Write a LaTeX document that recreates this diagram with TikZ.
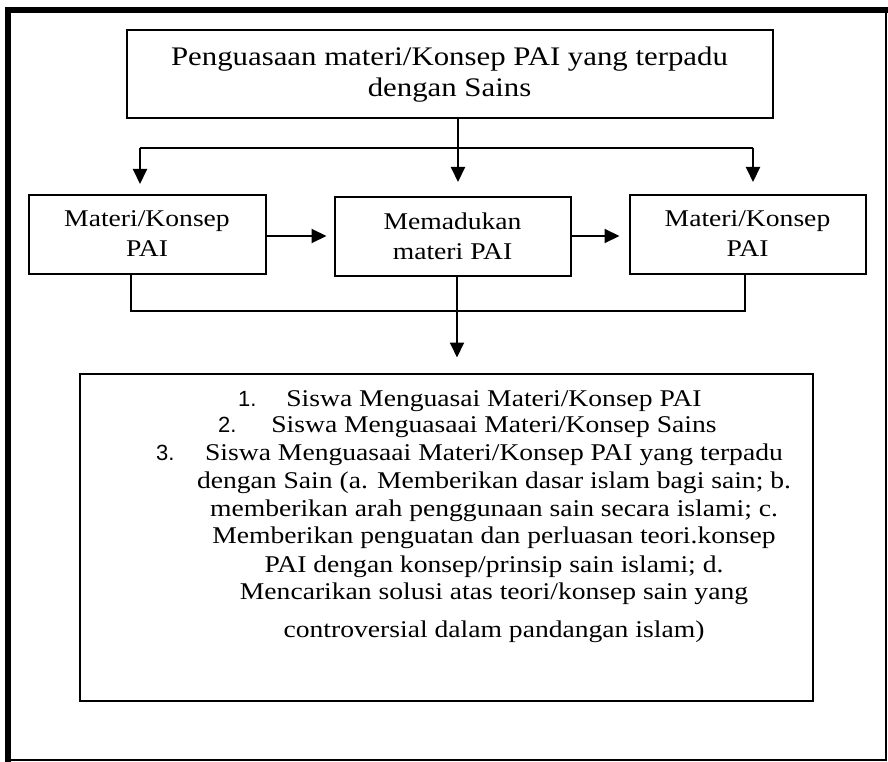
\documentclass[tikz,border=0pt]{standalone}
\usepackage{fontspec}
\setmainfont{Liberation Serif}[FakeStretch=1.15]
\newfontfamily\numfont{Liberation Sans}
\usetikzlibrary{arrows.meta}
\tikzset{
  box/.style={draw, line width=2pt, inner sep=0pt, align=center,
    font=\fontsize{24}{30}\selectfont},
  txt/.style={inner sep=0pt, anchor=base, font=\fontsize{24}{30}\selectfont},
  num/.style={inner sep=0pt, anchor=base west, font=\numfont\fontsize{22}{26}\selectfont},
  arr/.style={line width=2pt, -{Triangle[length=15pt,width=14pt]}},
  thin/.style={line width=1.5pt},
  plain/.style={line width=2pt}
}
\begin{document}
\begin{tikzpicture}[x=1pt,y=-1pt]
\useasboundingbox (0,0) rectangle (888,762);
% outer frame
\draw[line width=6pt] (8,762) -- (8,10) -- (888,10);
\draw[line width=2pt] (886,13) -- (886,760) -- (11,760);

\node[box, minimum width=646pt, minimum height=88pt, font=\fontsize{26.8}{31}\selectfont] (top) at (449.5,74.5)
  {Penguasaan materi/Konsep PAI yang terpadu\\dengan Sains};
\node[box, minimum width=237pt, minimum height=79pt] (left) at (147,234)
  {Materi/Konsep\\PAI};
\node[box, minimum width=236pt, minimum height=79pt] (mid) at (452.5,236)
  {Memadukan\\materi PAI};
\node[box, minimum width=236pt, minimum height=79pt] (right) at (747.5,234)
  {Materi/Konsep\\PAI};
\node[draw, line width=2pt, minimum width=733pt, minimum height=327pt, inner sep=0pt] (res) at (446,537) {};

% connectors from top
\coordinate (j) at (458,148);
\coordinate (jl) at (140,148);
\coordinate (jr) at (753,148);
\draw[plain] (top.south -| j) -- (j);
\draw[plain] (jl) -- (jr);
\draw[arr] (jl) -- (jl |- 0,184);
\draw[arr] (j) -- (j |- 0,182);
\draw[arr] (jr) -- (jr |- 0,182);

% horizontal arrows
\coordinate (a1) at (266,236);
\coordinate (a2) at (569,236);
\draw[arr, shorten >=7pt] (left.east |- a1) -- (a1 -| mid.west);
\draw[arr, shorten >=9pt] (mid.east |- a2) -- (a2 -| right.west);

% join below
\coordinate (bl) at (131,311);
\coordinate (br) at (745,311);
\draw[thin] (left.south -| bl) -- (bl) -- (br) -- (right.south -| br);
\draw[arr, shorten >=15pt] (mid.south -| 457,0) -- (res.north -| 457,0);

% result text
\node[num] (n1) at (238,406) {1.};
\node[num] (n2) at (218,432) {2.};
\node[num] (n3) at (156,460) {3.};
\node[txt] (l1) at (494,406) {Siswa Menguasai Materi/Konsep PAI};
\node[txt] (l2) at (494,432) {Siswa Menguasaai Materi/Konsep Sains};
\node[txt] (l3) at (494,460) {Siswa Menguasaai Materi/Konsep PAI yang terpadu};
\node[txt] (l4) at (494,488) {dengan Sain (a. Memberikan dasar islam bagi sain; b.};
\node[txt] (l5) at (494,516) {memberikan arah penggunaan sain secara islami; c.};
\node[txt] (l6) at (494,543) {Memberikan penguatan dan perluasan teori.konsep};
\node[txt] (l7) at (494,572) {PAI dengan konsep/prinsip sain islami; d.};
\node[txt] (l8) at (494,599) {Mencarikan solusi atas teori/konsep sain yang};
\node[txt] (l9) at (494,637) {controversial dalam pandangan islam)};
\end{tikzpicture}
\end{document}
